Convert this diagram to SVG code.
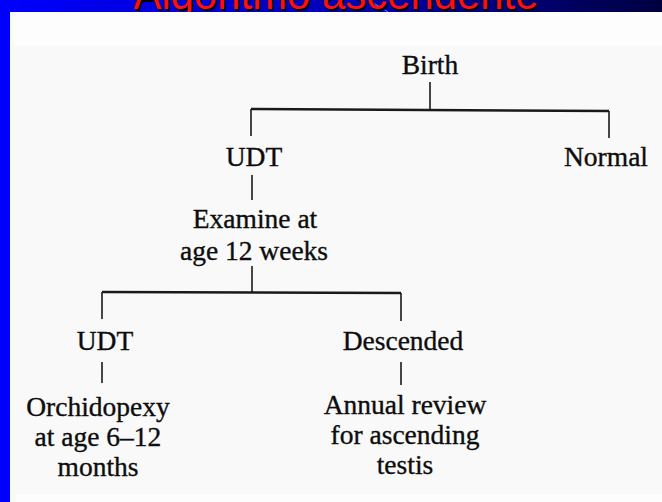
<svg xmlns="http://www.w3.org/2000/svg" width="662" height="502" viewBox="0 0 662 502">
  <defs>
    <linearGradient id="bg" x1="0" y1="0" x2="1" y2="0">
      <stop offset="0" stop-color="#0000ff"/>
      <stop offset="0.5" stop-color="#0000b8"/>
      <stop offset="1" stop-color="#000040"/>
    </linearGradient>
    <style>
      .lbl { font-family: "Liberation Serif", "Times New Roman", serif; font-size: 27.5px; fill: #0d0d0d; stroke: #0d0d0d; stroke-width: 0.35; text-anchor: middle; }
      .ttl { font-family: "Liberation Sans", Arial, sans-serif; font-size: 44px; text-anchor: middle; }
      .ln { stroke: #1a1a1a; stroke-width: 1.6; fill: none; }
      .hl { stroke: #1a1a1a; stroke-width: 2.4; fill: none; }
    </style>
  </defs>

  <!-- background -->
  <rect x="0" y="0" width="662" height="502" fill="url(#bg)"/>
  <rect x="0" y="0" width="11" height="502" fill="#0000ff"/>
  <line x1="372" y1="2" x2="388" y2="12" stroke="#5a8cff" stroke-width="1"/>

  <!-- cut-off title -->
  <g id="title">
    <text class="ttl" x="338" y="11" fill="#000" textLength="405" lengthAdjust="spacingAndGlyphs">Algoritmo ascendente</text>
    <text class="ttl" x="336" y="9" fill="#ff1010" textLength="405" lengthAdjust="spacingAndGlyphs">Algoritmo ascendente</text>
  </g>

  <!-- white panel -->
  <rect x="10" y="12" width="652" height="490" fill="#f9f9f9"/>
  <rect x="14" y="12" width="648" height="33" fill="#fdfdfd"/>
  <rect x="16" y="494" width="646" height="8" fill="#fdfdfd"/>

  <!-- connectors -->
  <g id="connectors">
    <line class="ln" x1="430" y1="82" x2="430" y2="110"/>
    <line class="hl" x1="251" y1="109" x2="609" y2="111"/>
    <line class="ln" x1="251" y1="109" x2="251" y2="136"/>
    <line class="ln" x1="609" y1="111" x2="609" y2="138"/>
    <line class="ln" x1="252" y1="175" x2="252" y2="200"/>
    <line class="ln" x1="252" y1="266" x2="252" y2="292"/>
    <line class="hl" x1="102" y1="292" x2="401" y2="293"/>
    <line class="ln" x1="102" y1="292" x2="102" y2="319"/>
    <line class="ln" x1="401" y1="293" x2="401" y2="321"/>
    <line class="ln" x1="102" y1="362" x2="102" y2="383"/>
    <line class="ln" x1="401" y1="362" x2="401" y2="385"/>
  </g>

  <!-- nodes -->
  <g id="birth"><text class="lbl" x="430" y="74">Birth</text></g>
  <g id="udt1"><text class="lbl" x="254" y="166">UDT</text></g>
  <g id="normal"><text class="lbl" x="606" y="166">Normal</text></g>
  <g id="examine">
    <text class="lbl" x="255" y="228">Examine at</text>
    <text class="lbl" x="254" y="260">age 12 weeks</text>
  </g>
  <g id="udt2"><text class="lbl" x="105" y="350">UDT</text></g>
  <g id="descended"><text class="lbl" x="403" y="350">Descended</text></g>
  <g id="orchidopexy">
    <text class="lbl" x="98" y="416">Orchidopexy</text>
    <text class="lbl" x="98" y="446">at age 6–12</text>
    <text class="lbl" x="98" y="476">months</text>
  </g>
  <g id="annual">
    <text class="lbl" x="405" y="414">Annual review</text>
    <text class="lbl" x="405" y="444">for ascending</text>
    <text class="lbl" x="405" y="474">testis</text>
  </g>
</svg>
